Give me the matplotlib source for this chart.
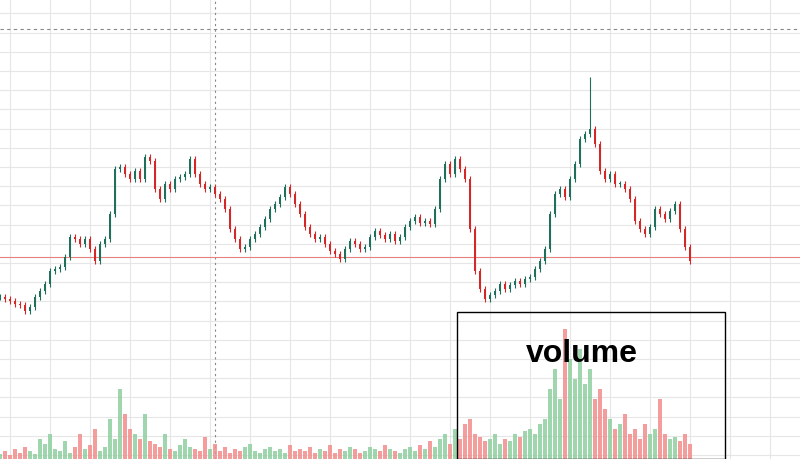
import matplotlib
matplotlib.use("Agg")
import matplotlib.pyplot as plt
import numpy as np

close = [162,160,158,155,154,148,152,162,168,175,188,190,192,202,222,220,215,220,210,198,215,220,245,290,292,285,280,288,280,302,298,270,260,275,270,280,282,285,300,285,275,270,272,265,260,250,230,220,210,212,220,225,232,240,250,255,262,272,265,255,245,232,225,220,222,215,208,205,200,210,218,215,210,212,222,228,224,220,225,218,222,232,238,242,236,238,235,250,280,295,285,300,290,280,230,188,170,160,164,168,175,170,174,178,175,180,182,190,198,210,245,265,270,262,280,295,320,325,330,315,288,280,285,275,275,270,260,238,230,225,232,250,245,240,248,255,230,212,198]
volume = [5,8,4,10,6,12,8,5,20,15,25,10,8,18,6,12,25,10,14,30,8,
          12,40,20,70,45,30,25,20,45,18,
          15,12,25,10,8,14,20,12,10,8,22,10,15,8,12,6,10,8,12,15,8,6,10,12,8,10,6,14,8,10,
          8,12,6,10,8,14,6,10,8,12,10,6,8,12,10,8,14,10,8,6,10,12,8,14,10,18,12,20,25,15,
          30,20,35,40,25,22,18,20,25,15,20,18,25,22,28,30,25,35,40,
          70,90,60,130,100,80,110,75,90,60,70,50,40,30,35,45,
          25,30,20,35,25,30,60,25,20,22,18,25,15]
spike_index = 118
spike_high = 382

n = min(len(close), len(volume))
close = close[:n]; volume = volume[:n]
opens = [close[0]] + close[:-1]

fig = plt.figure(figsize=(8, 4.6), dpi=100)
ax = fig.add_axes([0, 0, 1, 1])
x = np.arange(n) * 5.0
ax.set_xlim(0, 800)
ax.set_ylim(0, 460)
ax.axis('off')
for gx in np.arange(10, 800, 40):
    ax.axvline(gx, color='#e6e6e6', lw=0.8, zorder=0)
for gy in np.arange(4, 460, 19.2):
    ax.axhline(gy, color='#e6e6e6', lw=0.8, zorder=0)
ax.axvline(215, color='#888888', lw=0.8, ls=(0, (2, 3)), zorder=1)
ax.axhline(430, color='#888888', lw=0.8, ls=(0, (3, 3)), zorder=1)
ax.axhline(202, color='#e88080', lw=0.8, zorder=1)

for i in range(n):
    o, c = opens[i], close[i]
    up = c >= o
    col = '#1f6f5c' if up else '#d62728'
    vcol = '#8fcf9f' if up else '#f28c8c'
    hi = spike_high if i == spike_index else max(o, c) + 3
    ax.vlines(x[i], min(o, c) - 3, hi, color=col, lw=0.8, zorder=3)
    ax.bar(x[i], max(abs(c - o), 1.5), bottom=min(o, c), width=2.5, color=col, zorder=3)
    ax.bar(x[i], volume[i], bottom=0, width=3.5, color=vcol, alpha=0.85, zorder=2)

ax.add_patch(plt.Rectangle((457, 0), 268, 147, fill=False, ec='black', lw=1, zorder=4))
ax.text(582, 106, 'volume', ha='center', va='center', fontsize=23, fontweight='bold',
        family=['Liberation Sans', 'DejaVu Sans'], zorder=5)
fig.savefig('out.png', dpi=100)
